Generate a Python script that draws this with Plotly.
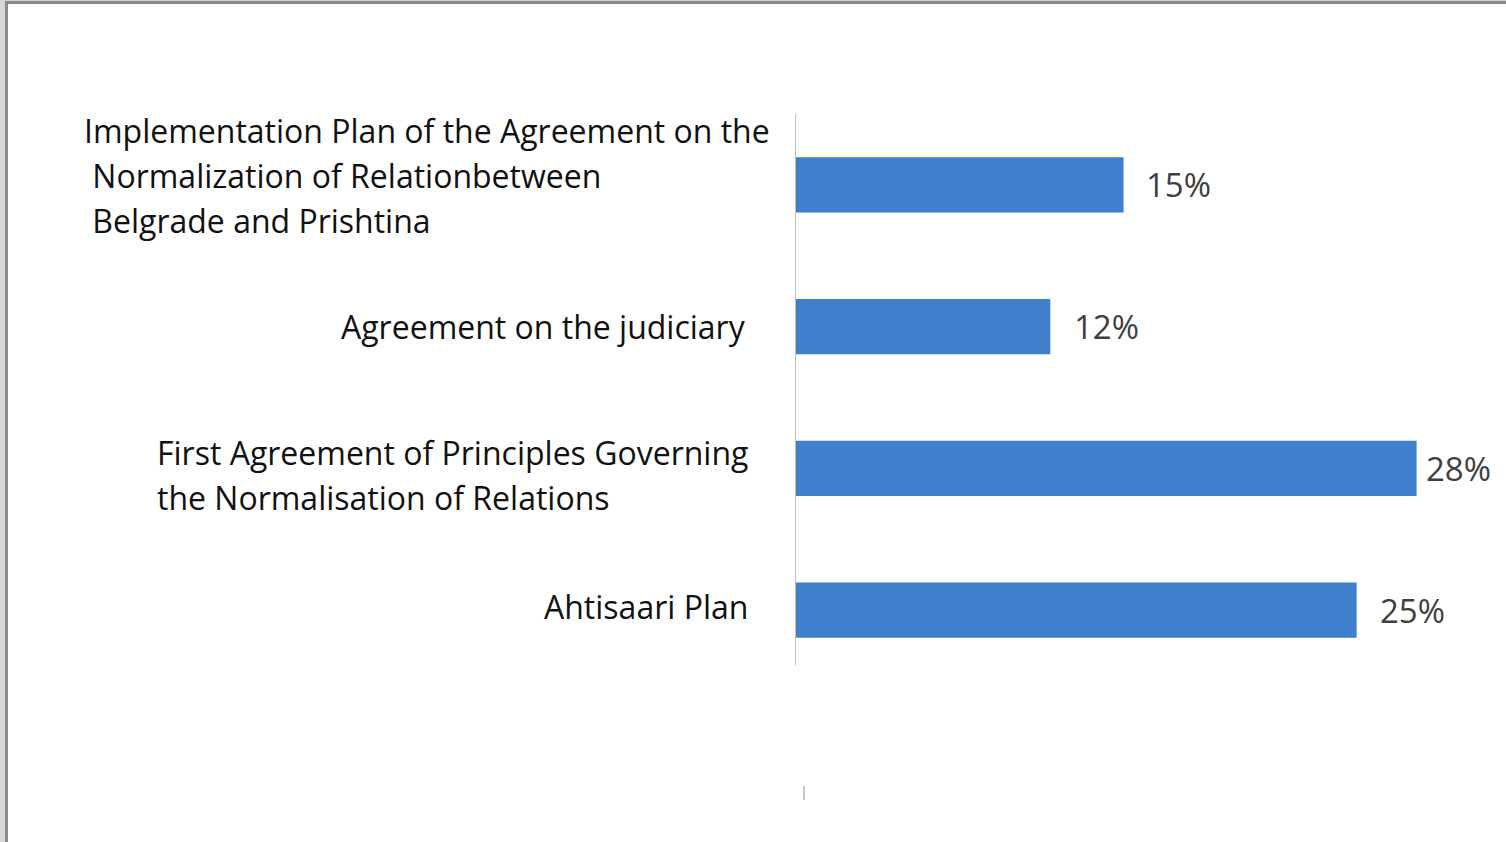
import plotly.graph_objects as go

categories = [
    "Implementation Plan of the Agreement on the<br> Normalization of Relationbetween<br> Belgrade and Prishtina",
    "Agreement on the judiciary",
    "First Agreement of Principles Governing<br>the Normalisation of Relations",
    "Ahtisaari Plan",
]
values = [14.8, 11.5, 28.0, 25.3]
value_labels = ["15%", "12%", "28%", "25%"]

W, H = 1506, 842
L, R_EDGE, T, B = 795, 1461, 114, 681
FONT = "Open Sans"
BAR_COLOR = "#3F7FCB"


def px_x(px):
    return (px - L) / (R_EDGE - L)


def px_y(py):
    return (B - py) / (B - T)


fig = go.Figure()
fig.add_trace(go.Bar(
    y=list(range(len(categories))), x=values, orientation="h",
    marker=dict(color=BAR_COLOR, line=dict(width=0)),
    width=0.39, hoverinfo="skip",
))

annotations = []
# left edge (px) of each label block and vertical offset of block centre vs bar centre
label_left_px = [82, 339, 155, 542]
label_center_shift = [-9, 0, 7, -4]
value_gap_px = [20, 22, 7, 21]
line_gap = 45
for i, (cat, v, lab) in enumerate(zip(categories, values, value_labels)):
    lines = cat.split("<br>")
    n = len(lines)
    for j, line in enumerate(lines):
        off = (j - (n - 1) / 2) * line_gap + label_center_shift[i]
        txt = line
        if txt.startswith(" "):
            txt = "&nbsp;" + txt[1:]
        annotations.append(dict(
            x=px_x(label_left_px[i]), xref="paper", y=i, yref="y", text=txt,
            xanchor="left", yanchor="middle", showarrow=False,
            yshift=-off, align="left",
            font=dict(family=FONT, size=32, color="#111111"),
        ))
    annotations.append(dict(
        x=v, xref="x", y=i, yref="y", text=lab, xanchor="left", yanchor="middle",
        showarrow=False, xshift=value_gap_px[i], yshift=0,
        font=dict(family=FONT, size=33, color="#404040"),
    ))

shapes = [
    # axis line
    dict(type="line", xref="x", yref="y", x0=0, x1=0, y0=-0.5, y1=3.39,
         line=dict(color="#BFBFBF", width=2)),
    # small tick below
    dict(type="line", xref="paper", yref="paper", x0=px_x(804), x1=px_x(804),
         y0=px_y(786), y1=px_y(800), line=dict(color="#C8C8C8", width=2)),
    # frame left
    dict(type="rect", xref="paper", yref="paper", x0=px_x(0), x1=px_x(5),
         y0=px_y(H + 5), y1=px_y(-5), fillcolor="#D6D6D6", line=dict(width=0)),
    dict(type="rect", xref="paper", yref="paper", x0=px_x(5), x1=px_x(8),
         y0=px_y(H + 5), y1=px_y(1), fillcolor="#8A8A8A", line=dict(width=0)),
    # frame top
    dict(type="rect", xref="paper", yref="paper", x0=px_x(0), x1=px_x(W + 5),
         y0=px_y(1), y1=px_y(-5), fillcolor="#CFCFCF", line=dict(width=0)),
    dict(type="rect", xref="paper", yref="paper", x0=px_x(5), x1=px_x(W + 5),
         y0=px_y(4), y1=px_y(1), fillcolor="#8A8A8A", line=dict(width=0)),
]

fig.update_layout(
    width=W, height=H,
    margin=dict(l=L, r=W - R_EDGE, t=T, b=H - B, pad=0),
    paper_bgcolor="white", plot_bgcolor="white",
    showlegend=False,
    xaxis=dict(range=[0, 30], visible=False, fixedrange=True),
    yaxis=dict(range=[3.5, -0.5], visible=False, fixedrange=True),
    annotations=annotations, shapes=shapes,
)

fig.write_html(
    "out.html",
    config={"displayModeBar": False},
    post_script="document.body.style.margin='0';document.body.style.overflow='hidden';",
)
